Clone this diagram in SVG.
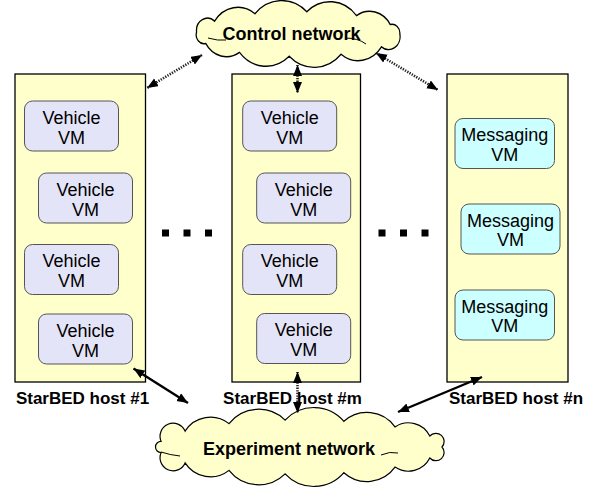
<svg xmlns="http://www.w3.org/2000/svg" width="596" height="488" viewBox="0 0 596 488">
<defs>
<marker id="ah" markerUnits="userSpaceOnUse" markerWidth="12" markerHeight="10" refX="11" refY="4.5" orient="auto-start-reverse"><path d="M0,0 L11,4.5 L0,9 z" fill="#000"/></marker>
</defs>
<style>
.host{fill:#FFFFCC;stroke:#000;stroke-width:1.3}
.veh{fill:#E4E4F8;stroke:#555;stroke-width:1}
.msg{fill:#CCFFFF;stroke:#555;stroke-width:1}
.cloud{fill:#FFFFCC;stroke:#000;stroke-width:1.2}
.vt{font-family:"Liberation Sans",Arial,sans-serif;font-size:18px;text-anchor:middle;fill:#000}
.bt{font-family:"Liberation Sans",Arial,sans-serif;font-size:17px;font-weight:bold;text-anchor:middle;fill:#000}
.ct{font-family:"Liberation Sans",Arial,sans-serif;font-size:18px;font-weight:bold;text-anchor:middle;fill:#000}
.dot{fill:none;stroke:#222;stroke-width:2.6;stroke-dasharray:1.3 1.3;marker-start:url(#ah);marker-end:url(#ah)}
.sol{fill:none;stroke:#000;stroke-width:2.4;marker-start:url(#ah);marker-end:url(#ah)}
.inner{fill:none;stroke:#000;stroke-width:1}
</style>
<rect width="596" height="488" fill="#fff"/>

<g id="control-network">
<path class="cloud" transform="translate(298,34) scale(1.05,1.18) translate(-298,-34)" d="M395,34 A11,11 0 0 1 377.5,44.9 A27,27 0 0 1 339,51.2 A35,35 0 0 1 289.6,52.9 A33,33 0 0 1 242.3,49.6 A23,23 0 0 1 210.1,42 A7.5,7.5 0 0 1 201.4,32.3 A10.5,10.5 0 0 1 218.6,23.1 A27,27 0 0 1 257,16.8 A35,35 0 0 1 306.4,15.1 A33,33 0 0 1 353.7,18.4 A23,23 0 0 1 385.9,26 A7.5,7.5 0 0 1 395,34 Z"/>
<path class="inner" d="M345,38 Q358,38 366,44"/>
<path class="inner" d="M208,38 Q218,41 226,40"/>
<text class="ct" x="291.5" y="40">Control network</text>
</g>

<g id="experiment-network">
<path class="cloud" d="M442,447 A8,8 0 0 1 429.8,458 A24,24 0 0 1 395,467.1 A34.5,34.5 0 0 1 343.9,472.7 A39.4,39.4 0 0 1 285.1,473.9 A37.7,37.7 0 0 1 229,470.4 A30,30 0 0 1 185.1,462.9 A13,13 0 0 1 161.1,452.6 A5.6,5.6 0 0 1 161.1,441.4 A13,13 0 0 1 185.1,431.1 A30,30 0 0 1 229,423.6 A37.7,37.7 0 0 1 285.1,420.1 A39.4,39.4 0 0 1 343.9,421.3 A34.5,34.5 0 0 1 395,426.9 A24,24 0 0 1 429.8,436 A8,8 0 0 1 442,447 Z"/>
<path class="inner" d="M381,455 Q390,451 398,453"/>
<path class="inner" d="M161,452 Q170,455 180,456"/>
<text class="ct" x="289" y="455">Experiment network</text>
</g>

<g id="host-1">
<rect class="host" x="15" y="74" width="130.5" height="308"/>
<g id="h1-vm1"><rect class="veh" x="24.5" y="101" width="94" height="50" rx="8"/><text class="vt" x="71.5" y="123.5">Vehicle</text><text class="vt" x="71.5" y="143.5">VM</text></g>
<g id="h1-vm2"><rect class="veh" x="38.5" y="173" width="94" height="50" rx="8"/><text class="vt" x="85.5" y="195.5">Vehicle</text><text class="vt" x="85.5" y="215.5">VM</text></g>
<g id="h1-vm3"><rect class="veh" x="24.5" y="244.5" width="94" height="50" rx="8"/><text class="vt" x="71.5" y="267">Vehicle</text><text class="vt" x="71.5" y="287">VM</text></g>
<g id="h1-vm4"><rect class="veh" x="38.5" y="314" width="94" height="50" rx="8"/><text class="vt" x="85.5" y="336.5">Vehicle</text><text class="vt" x="85.5" y="356.5">VM</text></g>
<text class="bt" x="82.5" y="404">StarBED host #1</text>
</g>

<g id="host-m">
<rect class="host" x="232" y="74" width="128.5" height="308"/>
<g id="hm-vm1"><rect class="veh" x="242.7" y="101" width="94" height="50" rx="8"/><text class="vt" x="289.7" y="123.5">Vehicle</text><text class="vt" x="289.7" y="143.5">VM</text></g>
<g id="hm-vm2"><rect class="veh" x="256.7" y="173" width="94" height="50" rx="8"/><text class="vt" x="303.7" y="195.5">Vehicle</text><text class="vt" x="303.7" y="215.5">VM</text></g>
<g id="hm-vm3"><rect class="veh" x="242.7" y="244.5" width="94" height="50" rx="8"/><text class="vt" x="289.7" y="267">Vehicle</text><text class="vt" x="289.7" y="287">VM</text></g>
<g id="hm-vm4"><rect class="veh" x="256.7" y="313.5" width="94" height="50" rx="8"/><text class="vt" x="303.7" y="336">Vehicle</text><text class="vt" x="303.7" y="356">VM</text></g>
<text class="bt" x="292.5" y="404">StarBED host #m</text>
</g>

<g id="host-n">
<rect class="host" x="447" y="74" width="121" height="308"/>
<g id="hn-vm1"><rect class="msg" x="455" y="118.5" width="99.5" height="50" rx="8"/><text class="vt" x="504.7" y="141">Messaging</text><text class="vt" x="504.7" y="160.5">VM</text></g>
<g id="hn-vm2"><rect class="msg" x="461" y="204" width="99" height="50" rx="8"/><text class="vt" x="510.5" y="226.5">Messaging</text><text class="vt" x="510.5" y="246">VM</text></g>
<g id="hn-vm3"><rect class="msg" x="455" y="290" width="99.5" height="50" rx="8"/><text class="vt" x="504.7" y="312.5">Messaging</text><text class="vt" x="504.7" y="332">VM</text></g>
<text class="bt" x="516" y="404">StarBED host #n</text>
</g>

<g id="ellipsis">
<rect x="162" y="229.5" width="7" height="7"/><rect x="183.5" y="229.5" width="7" height="7"/><rect x="205" y="229.5" width="7" height="7"/>
<rect x="378.5" y="229.5" width="7" height="7"/><rect x="400" y="229.5" width="7" height="7"/><rect x="421.5" y="229.5" width="7" height="7"/>
</g>

<g id="connectors">
<line class="dot" x1="202" y1="55" x2="147" y2="88"/>
<line class="dot" x1="297.5" y1="65" x2="297.5" y2="93"/>
<line class="dot" x1="376" y1="53" x2="438" y2="90"/>
<line class="sol" x1="133.5" y1="368.5" x2="188" y2="403"/>
<line class="dot" x1="297.5" y1="372" x2="297.5" y2="413"/>
<line class="sol" x1="482" y1="377" x2="398" y2="412"/>
</g>
</svg>
